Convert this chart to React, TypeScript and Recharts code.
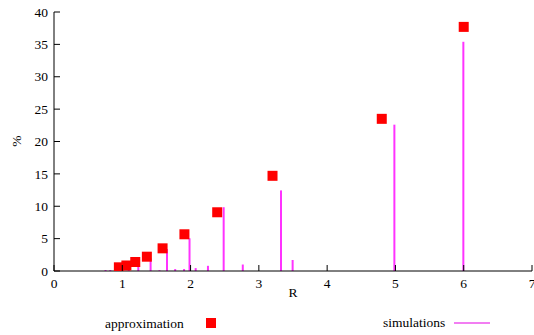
import React from 'react';
import {
  ComposedChart,
  Bar,
  Scatter,
  XAxis,
  YAxis,
} from 'recharts';

// simulations (impulses): R value and percentage
const simR = [0.76, 0.83, 1.0, 1.1, 1.24, 1.42, 1.55, 1.66, 1.78, 1.91, 1.99, 2.08, 2.26, 2.49, 2.77, 3.33, 3.5, 4.99, 6.0];
const simPct = [0.15, 0.15, 0.55, 0.8, 1.2, 1.95, 0.12, 3.4, 0.3, 0.3, 5.05, 0.45, 0.8, 9.85, 1.0, 12.45, 1.7, 22.6, 35.4];

// approximation (squares)
const approxR = [0.95, 1.06, 1.19, 1.36, 1.59, 1.91, 2.39, 3.2, 4.8, 6.0];
const approxPct = [0.57, 0.85, 1.39, 2.21, 3.5, 5.67, 9.07, 14.7, 23.5, 37.7];

const xTicks = [0, 1, 2, 3, 4, 5, 6, 7];
const yTicks = [0, 5, 10, 15, 20, 25, 30, 35, 40];

const simData = simR.map((r, i) => ({ r, sim: simPct[i] }));
const approxData = approxR.map((r, i) => ({ r, approx: approxPct[i] }));

const FONT = 'Liberation Serif, Times New Roman, serif';
const FS = 13.5;
const TICK = 6;

const BottomTick = (props: any) => {
  const { x, y, payload } = props;
  return (
    <g>
      <line x1={x} x2={x} y1={y - 7} y2={y - 7 - TICK} stroke="#000" />
      <text x={x} y={y} dy="0.71em" textAnchor="middle" style={{ fontFamily: FONT, fontSize: FS }} fill="#000">
        {payload.value}
      </text>
    </g>
  );
};

const TopTick = (props: any) => {
  const { x, y } = props;
  return <line x1={x} x2={x} y1={y} y2={y + TICK} stroke="#000" />;
};

const LeftTick = (props: any) => {
  const { x, y, payload } = props;
  return (
    <g>
      <line x1={x + 6} x2={x + 6 + TICK} y1={y} y2={y} stroke="#000" />
      <text x={x} y={y} dy="0.35em" textAnchor="end" style={{ fontFamily: FONT, fontSize: FS }} fill="#000">
        {payload.value}
      </text>
    </g>
  );
};

const RightTick = (props: any) => {
  const { x, y } = props;
  return <line x1={x} x2={x - TICK} y1={y} y2={y} stroke="#000" />;
};

const Square = (props: any) => {
  const { cx, cy } = props;
  return <rect x={cx - 5} y={cy - 5} width={10} height={10} fill="#ff0000" />;
};

export default function App() {
  return (
    <div style={{ position: 'absolute', left: 0, top: 0, width: 534, height: 335, background: '#fff', fontFamily: FONT }}>
      <ComposedChart
        width={534}
        height={335}
        data={simData}
        margin={{ top: 12, right: 2, left: 0, bottom: 34 }}
        style={{ fontFamily: FONT }}
      >
        <XAxis
          dataKey="r"
          type="number"
          domain={[0, 7]}
          ticks={xTicks}
          allowDataOverflow
          height={30}
          tickSize={0}
          tickMargin={7}
          tick={<BottomTick />}
          tickLine={false}
          axisLine={{ stroke: '#000' }}
          interval={0}
          label={{ value: 'R', position: 'insideBottom', offset: 4, style: { fontFamily: FONT, fontSize: FS }, fill: '#000' }}
        />
        <XAxis
          xAxisId="top"
          orientation="top"
          type="number"
          domain={[0, 7]}
          ticks={xTicks}
          allowDataOverflow
          height={0}
          tickSize={0}
          tickMargin={0}
          tick={<TopTick />}
          tickLine={false}
          axisLine={{ stroke: '#000' }}
          interval={0}
        />
        <YAxis
          type="number"
          domain={[0, 40]}
          ticks={yTicks}
          allowDataOverflow
          width={54}
          tickSize={0}
          tickMargin={6}
          tick={<LeftTick />}
          tickLine={false}
          axisLine={{ stroke: '#000' }}
          interval={0}
          label={() => (
            <text x={16} y={141} transform="rotate(-90 16 141)" textAnchor="middle" dy="0.35em" style={{ fontFamily: FONT, fontSize: FS }} fill="#000">
              %
            </text>
          )}
        />
        <YAxis
          yAxisId="right"
          orientation="right"
          type="number"
          domain={[0, 40]}
          ticks={yTicks}
          allowDataOverflow
          width={0}
          tickSize={0}
          tickMargin={0}
          tick={<RightTick />}
          tickLine={false}
          axisLine={{ stroke: '#000' }}
          interval={0}
        />
        <Bar dataKey="sim" fill="#ff33ff" barSize={2} isAnimationActive={false} />
        <Scatter data={approxData} dataKey="approx" shape={<Square />} isAnimationActive={false} />
      </ComposedChart>
      <div
        style={{
          position: 'absolute',
          left: 0,
          top: 314,
          width: 534,
          height: 20,
          fontFamily: FONT,
          fontSize: FS,
          color: '#000',
        }}
      >
        <span style={{ position: 'absolute', left: 105, top: 2 }}>approximation</span>
        <span style={{ position: 'absolute', left: 206, top: 4, width: 10, height: 10, background: '#ff0000' }} />
        <span style={{ position: 'absolute', left: 383, top: 1 }}>simulations</span>
        <span style={{ position: 'absolute', left: 454, top: 8, width: 36, height: 2, background: '#f27ef2' }} />
      </div>
    </div>
  );
}
